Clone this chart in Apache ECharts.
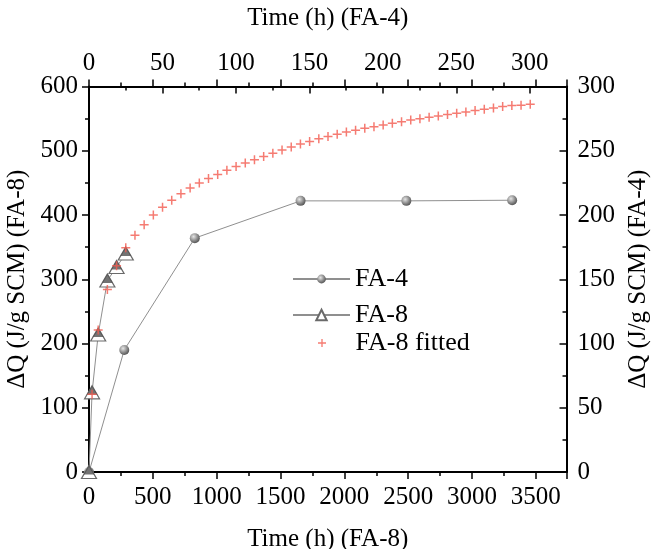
<!DOCTYPE html>
<html>
<head>
<meta charset="utf-8">
<script src="https://cdn.jsdelivr.net/npm/echarts@6/dist/echarts.min.js"></script>
<style>
html,body{margin:0;padding:0;background:#fff;}
#chart{width:651px;height:549px;}
</style>
</head>
<body>
<div id="chart"></div>
<script>
// ---- data ----
var timeFA4 = [0, 24, 72, 144, 216, 288];
var qFA4 = [0, 95, 182, 211, 211, 211.5];
var timeFA8 = [0, 24, 72, 144, 216, 288];
var qFA8 = [0, 124, 214, 298, 319, 340];
var timeFit = [24,72,144,216,288,360,432,504,576,648,720,792,864,936,1008,1080,1152,1224,1296,1368,1440,1512,1584,1656,1728,1800,1872,1944,2016,2088,2160,2232,2304,2376,2448,2520,2592,2664,2736,2808,2880,2952,3024,3096,3168,3240,3312,3384,3456];
var qFit = [121,221,284,321,349,368.5,385,400,412,423,433,442,450,457,463,469.5,475.5,481,486,491,496,501,506,510.5,514.5,518.5,522,525.5,529,532,535,537.5,540,542.8,545,548,550,552,554,556.3,558.3,560.3,562.5,564.5,566.6,568.7,570.3,571,572.3];

function pairs(xs, ys) { return xs.map(function (x, i) { return [x, ys[i]]; }); }

var FONT = '"Liberation Serif", "Times New Roman", serif';
var plusPath = 'path://M5,0h2v5h5v2h-5v5h-2v-5h-5v-2h5z';
var sphere = {
  type: 'radial', x: 0.38, y: 0.35, r: 0.75,
  colorStops: [{offset: 0, color: '#e6e6e6'}, {offset: 0.55, color: '#8a8a8a'}, {offset: 1, color: '#444'}]
};
var lineGray = '#8f8f8f';

function axisCommon(extra) {
  var base = {
    type: 'value',
    splitLine: {show: false},
    axisLine: {show: true, onZero: false, lineStyle: {color: '#000', width: 2}},
    axisTick: {show: true, length: 7, lineStyle: {color: '#000', width: 1.5}},
    minorTick: {show: true, splitNumber: 2, length: 4, lineStyle: {color: '#000', width: 1.5}},
    axisLabel: {color: '#000', fontSize: 25, fontFamily: FONT, formatter: function (v) { return String(v); }},
    nameTextStyle: {color: '#000', fontSize: 25, fontFamily: FONT},
    nameLocation: 'middle'
  };
  for (var k in extra) {
    if (typeof extra[k] === 'object' && base[k] && typeof base[k] === 'object' && !Array.isArray(extra[k])) {
      base[k] = Object.assign({}, base[k], extra[k]);
    } else base[k] = extra[k];
  }
  return base;
}

var legendText = {color: '#000', fontSize: 26, fontFamily: FONT, lineHeight: 26};

var chart = echarts.init(document.getElementById('chart'), null, {renderer: 'canvas'});
chart.setOption({
  backgroundColor: '#fff',
  animation: false,
  grid: {left: 89, right: 84.5, top: 86.5, bottom: 77, containLabel: false, outerBoundsMode: 'none'},
  xAxis: [
    axisCommon({position: 'bottom', min: 0, max: 3740, interval: 500,
      name: 'Time (h) (FA-8)', nameGap: 55,
      axisLabel: {margin: 13, showMaxLabel: false}}),
    axisCommon({position: 'top', min: 0, max: 325, interval: 50,
      name: 'Time (h) (FA-4)', nameGap: 56,
      axisTick: {inside: true, length: 7},
      axisLabel: {margin: 11, showMaxLabel: false}}),
    axisCommon({position: 'top', min: 0, max: 3740, interval: 500,
      axisLabel: {show: false}, axisLine: {show: false}})
  ],
  yAxis: [
    axisCommon({position: 'left', min: 0, max: 600, interval: 100,
      name: 'ΔQ (J/g SCM) (FA-8)', nameGap: 55, nameRotate: 90,
      axisLabel: {margin: 11}}),
    axisCommon({position: 'right', min: 0, max: 300, interval: 50,
      name: 'ΔQ (J/g SCM) (FA-4)', nameGap: 53, nameRotate: 90,
      axisTick: {inside: true, length: 7},
      axisLabel: {margin: 11}})
  ],
  legend: [
    {data: ['FA-4'], orient: 'vertical', left: 292, top: 266, padding: 0, itemWidth: 57, itemHeight: 11, itemGap: 0,
     textStyle: legendText},
    {data: ['FA-8'], orient: 'vertical', left: 292, top: 302, padding: 0, itemWidth: 57, itemHeight: 13, itemGap: 0,
     textStyle: legendText},
    {data: ['FA-8 fitted'], orient: 'vertical', left: 318, top: 330, padding: 0, itemWidth: 57, itemHeight: 8, itemGap: 0,
     textStyle: legendText}
  ],
  series: [
    {
      name: 'FA-4', type: 'line', xAxisIndex: 1, yAxisIndex: 1,
      data: pairs(timeFA4, qFA4),
      symbol: 'circle', symbolSize: 10,
      lineStyle: {color: lineGray, width: 1},
      itemStyle: {color: sphere, borderWidth: 0},
      z: 3
    },
    {
      name: 'FA-8', type: 'line', xAxisIndex: 0, yAxisIndex: 0,
      data: pairs(timeFA8, qFA8),
      symbol: 'triangle', symbolSize: [15, 13],
      lineStyle: {color: lineGray, width: 1},
      itemStyle: {color: '#fff', borderColor: '#6a6a6a', borderWidth: 1.2},
      z: 3
    },
    {
      name: 'FA-8', type: 'scatter', xAxisIndex: 0, yAxisIndex: 0,
      data: pairs(timeFA8, qFA8),
      symbol: 'triangle', symbolSize: [11, 9], symbolOffset: [0, -2],
      itemStyle: {color: '#505050'},
      z: 4
    },
    {
      name: 'FA-8 fitted', type: 'scatter', xAxisIndex: 0, yAxisIndex: 0,
      data: pairs(timeFit, qFit),
      symbol: plusPath, symbolSize: 9,
      itemStyle: {color: '#f25a4f'},
      z: 5
    }
  ]
});
</script>
</body>
</html>
